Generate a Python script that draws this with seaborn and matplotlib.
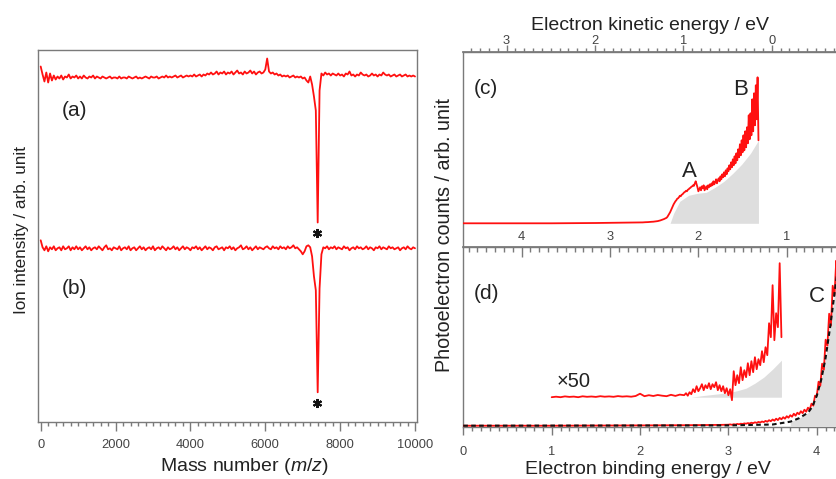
import numpy as np
import pandas as pd
import matplotlib
matplotlib.use("Agg")
import matplotlib.pyplot as plt
from matplotlib.ticker import MultipleLocator, NullLocator, FixedLocator
import seaborn as sns

# ------------------------------------------------------------------ data
# (a), (b): mass spectra (depletion), sampled every 50 m/z, relative to baseline
mass = np.linspace(0, 10000, 201)
trace_a = [10, 2, -5, 4, -6, 3, -4, 1, -3, 0,
           -2, 1, -3, 0, -1, 2, -2, 0, -1, 1,
           -2, 0, -2, 1, -1, -2, 0, -1, 1, -2,
           0, -1, -2, 0, -1, -2, -1, 0, -2, -1,
           -1, -2, 0, -2, -1, -1, -2, 0, -1, -2,
           -1, 0, -2, -1, -2, -1, 0, -1, -2, 0,
           -1, -1, 0, -2, -1, 0, -1, 1, -1, 0,
           -1, 0, 1, -1, 0, 1, -1, 0, 1, 0,
           1, 0, 2, 0, 1, 2, 0, 2, 1, 3,
           2, 4, 2, 3, 5, 2, 4, 3, 5, 2,
           4, 3, 5, 2, 4, 6, 3, 4, 2, 5,
           3, 4, 6, 3, 5, 2, 4, 5, 3, 4,
           7, 18, 5, 3, 4, 2, 3, 1, 2, 0,
           1, 0, 1, -1, 0, 1, -1, 0, -1, 0,
           -2, -1, -4, -6, 0, -8, -20, -34, -146, -14,
           3, 1, 4, 2, 3, 1, 3, 2, 1, 3,
           1, 2, 0, 3, 2, 5, 1, 2, 0, 2,
           1, 4, 2, 1, 2, 0, 1, 3, 1, 2,
           0, 2, 1, 4, 2, 1, 2, 0, 1, 2,
           0, 1, 2, 0, 1, 2, 0, 1, 0, 1,
           0]
trace_b = [8, 1, -2, 2, -3, 1, -1, 2, -2, 0,
           1, -2, 2, -1, 0, 2, -2, 1, -1, 2,
           -1, 1, -2, 0, 2, -1, 1, -2, 0, 1,
           -1, 2, 0, -2, 1, 3, -1, 0, -2, 1,
           0, -1, 2, -2, 0, 1, -1, 2, -2, 0,
           1, -2, 0, 2, -1, 1, -2, 0, 1, -1,
           2, -2, 0, 1, -1, 2, 0, -2, 1, -1,
           0, 2, -1, 1, -2, 0, 2, -1, 1, 0,
           -2, 1, 0, 2, -1, 1, -2, 0, 2, -1,
           1, 0, -2, 1, 2, -1, 0, 1, -2, 1,
           0, 2, -1, 1, -2, 0, 1, 3, -1, 0,
           2, -1, 1, -2, 0, 2, -1, 1, 0, -1,
           1, 2, 0, -1, 2, 0, 1, -1, 2, 0,
           1, -1, 2, 0, 1, 3, 0, 1, -1, -3,
           -6, -3, 2, 3, 1, -8, -28, -42, -144, -40,
           -6, 1, 0, 2, -1, 1, 0, 2, -1, 1,
           0, -1, 2, 0, 1, -2, 0, 1, -1, 2,
           0, 1, -1, 0, 2, -1, 1, 0, -2, 1,
           0, 2, -1, 1, 0, -1, 2, 0, 1, -1,
           0, 1, -2, 0, 1, -1, 2, 0, -1, 1,
           0]
star_mass = 7390
mass_ticks = [0, 2000, 4000, 6000, 8000, 10000]

# (c): photoelectron spectrum, 355 nm
hv_c = 3.49
ke_ticks_c = [0, 1, 2, 3]
be_c_flat = [0.0, 0.5, 1.0, 1.5, 1.8, 1.95]
spec_c_flat = [0, 0, 0, 0.3, 0.6, 0.8]
be_c_rise = np.linspace(2.00, 3.34, 135)
spec_c_rise = [0.8, 0.8, 0.9, 0.9, 1.0, 1.0, 1.1, 1.1, 1.2, 1.2,
               1.3, 1.3, 1.4, 1.5, 1.5, 1.6, 1.7, 1.8, 1.9, 2.0,
               2.2, 2.4, 2.6, 2.9, 3.2, 3.5, 3.8, 4.2, 4.6, 5.0,
               5.5, 6.5, 8, 9.5, 11, 13, 15, 17, 19, 20.5,
               22, 23, 24.5, 25, 26, 27.5, 27, 28.5, 29, 30,
               31, 31.5, 32.5, 32, 33.5, 34, 35, 35.5, 36.5, 37,
               38, 37.5, 40, 42, 39, 36, 32, 34, 36, 33,
               37, 35, 38, 33, 35, 37, 34, 38, 36, 39,
               37, 40, 38, 42, 39, 41, 44, 40, 43, 45,
               42, 47, 44, 49, 46, 51, 47, 53, 49, 55,
               52, 58, 54, 61, 56, 64, 58, 67, 60, 70,
               63, 74, 66, 79, 68, 83, 71, 88, 73, 92,
               76, 96, 80, 108, 84, 110, 88, 124, 92, 130,
               98, 138, 104, 146, 83]
be_c_fill = [2.34, 2.38, 2.45, 2.55, 2.65, 2.75, 2.85, 2.95, 3.05, 3.15, 3.25, 3.34]
fill_c = [0, 10, 22, 28, 30, 31, 36, 42, 50, 59, 70, 83]

# (d): photoelectron spectrum, 266 nm
hv_d = 4.66
ke_ticks_d = [1, 2, 3, 4]
be_d_flat = [0.0, 1.0, 2.0, 2.5, 2.9]
spec_d_flat = [0, 0, 0.3, 0.5, 0.8]
be_d_rise = np.linspace(3.00, 4.30, 66)
spec_d_rise = [1.0, 1.3, 0.9, 1.5, 1.2, 1.8, 1.4, 2.0, 1.7, 2.3,
               2.0, 2.6, 2.2, 3.0, 2.5, 3.4, 2.8, 3.8, 3.2, 4.2,
               3.6, 4.8, 4.0, 5.5, 4.5, 6.2, 5.0, 7.0, 5.6, 7.8,
               6.4, 8.5, 7.0, 9.5, 8.0, 10.5, 9.0, 12.0, 10.0, 13.0,
               11.5, 14.5, 12.5, 16.0, 14.0, 18.0, 16.0, 22.0, 20.0, 30.0,
               30, 44, 40, 62, 56, 86, 80, 112, 100, 140,
               130, 165, 140, 178, 150, 170]
be_fit = [0.0, 3.0, 3.5, 3.7, 3.8, 3.9, 3.95, 4.0, 4.05, 4.1, 4.15, 4.2, 4.25, 4.3]
fit_d = [0, 0.3, 1.2, 4, 7.5, 13, 19, 30, 46, 68, 98, 132, 165, 195]
# x50 magnified spectrum
be_x50_low = np.linspace(1.00, 2.45, 30)
x50_low = [0, 0.5, 0, 0.8, 0.3, 0.6, 0, 0.9, 0.4, 0.7,
           0.3, 1.0, 0.5, 0.8, 0.4, 1.1, 0.6, 0.9, 0.5, 1.2,
           3.5, 1.0, 2.0, 1.2, 2.2, 1.5, 1.0, 2.4, 1.3, 2.6]
be_x50_high = np.linspace(2.50, 3.60, 56)
x50_high = [2, 4, 1.5, 5, 3, 8, 5, 11, 6, 9,
            13, 7, 12, 9, 14, 8, 13, 10, 15, 7,
            12, 6, 11, 4, 9, 2, 8, -3, 26, 12,
            22, 14, 30, 17, 27, 20, 34, 22, 36, 25,
            40, 28, 38, 32, 46, 35, 50, 42, 74, 60,
            112, 57, 84, 70, 134, 60]
be_x50_fill = [2.58, 2.7, 2.8, 2.9, 3.0, 3.1, 3.2, 3.3, 3.4, 3.5, 3.6]
fill_x50 = [0, 1.5, 2.5, 3.5, 4.5, 6.5, 9, 14, 20, 28, 37]

# ------------------------------------------------------------------ style
sns.set_theme(style="white")
plt.rcParams["font.family"] = ["Liberation Sans", "DejaVu Sans"]
plt.rcParams["mathtext.fontset"] = "custom"
plt.rcParams["mathtext.it"] = "Liberation Sans:italic"
plt.rcParams["mathtext.rm"] = "Liberation Sans"
EDGE = "#7a7a7a"
TXT = "#222222"
TICKTXT = "#444444"
RED = "#ff1010"
GRAY = "#dedede"

W, H = 837, 479
fig = plt.figure(figsize=(W / 100, H / 100), dpi=100)


def box(x0, y0, x1, y1):
    return [x0 / W, 1 - y1 / H, (x1 - x0) / W, (y1 - y0) / H]


def fx(px):
    return px / W


def fy(py):
    return 1 - py / H


ax_l = fig.add_axes(box(38.3, 50.0, 416.7, 422.3))
ax_c = fig.add_axes(box(463.3, 52.3, 843.3, 246.7))
ax_d = fig.add_axes(box(463.3, 246.7, 843.3, 426.7))

for ax in (ax_l, ax_c, ax_d):
    for s in ax.spines.values():
        s.set_color(EDGE)
        s.set_linewidth(1.0)
    ax.yaxis.set_major_locator(NullLocator())
    ax.tick_params(left=False, labelleft=False)

# ------------------------------------------------------------------ left panel
off_a, off_b = 345.8, 174.0
df_a = pd.DataFrame({"m": mass, "y": np.asarray(trace_a) + off_a})
df_b = pd.DataFrame({"m": mass, "y": np.asarray(trace_b) + off_b})
sns.lineplot(data=df_a, x="m", y="y", ax=ax_l, color=RED, linewidth=1.3,
             estimator=None, sort=False, legend=False)
sns.lineplot(data=df_b, x="m", y="y", ax=ax_l, color=RED, linewidth=1.3,
             estimator=None, sort=False, legend=False)
ax_l.plot([star_mass, star_mass], [off_a - 156.2, off_b - 155.0], ls="none",
          marker=(6, 2, 0), ms=6.5, mew=1.5, color="#111111")
ax_l.set_xlim(-64, 10045)
ax_l.set_ylim(0, 372.3)
ax_l.set_xticks(mass_ticks)
ax_l.set_xticklabels([str(t) for t in mass_ticks])
ax_l.xaxis.set_minor_locator(MultipleLocator(200))
ax_l.tick_params(axis="x", which="both", bottom=True, direction="out",
                 color=EDGE, labelcolor=TICKTXT, labelsize=9.3, width=1.0)
ax_l.tick_params(axis="x", which="major", length=6.5, pad=5.5)
ax_l.tick_params(axis="x", which="minor", length=3)
ax_l.set_xlabel("")
ax_l.set_ylabel("")

# ------------------------------------------------------------------ panel (c)
be_c = np.concatenate([be_c_flat, be_c_rise])
spec_c = np.concatenate([spec_c_flat, spec_c_rise])
ax_c.fill_between(be_c_fill, 0, fill_c, color=GRAY, lw=0, zorder=1)
sns.lineplot(x=be_c, y=spec_c, ax=ax_c, color=RED, linewidth=1.3,
             estimator=None, sort=False, legend=False, zorder=3)
ax_c.set_xlim(0, 4.30)
ax_c.set_ylim(-23.4, 171.0)
ax_c.tick_params(axis="x", which="both", bottom=False, top=False,
                 labelbottom=False)
ax_c.set_xlabel("")
ax_c.set_ylabel("")
sec_c = ax_c.secondary_xaxis("top", functions=(lambda x: hv_c - x,
                                               lambda x: hv_c - x))
sec_c.xaxis.set_major_locator(FixedLocator(ke_ticks_c))
sec_c.xaxis.set_minor_locator(MultipleLocator(0.1))
sec_c.tick_params(axis="x", which="both", direction="out", color=EDGE,
                  labelcolor=TICKTXT, labelsize=9.3, width=1.0)
sec_c.tick_params(axis="x", which="major", length=5, pad=-1.5)
sec_c.tick_params(axis="x", which="minor", length=3)
for s in sec_c.spines.values():
    s.set_color(EDGE)
ax_c.text(2.564, 46.6, "A", fontsize=16, color=TXT, ha="center", va="baseline")
ax_c.text(3.139, 128.3, "B", fontsize=16, color=TXT, ha="center", va="baseline")

# ------------------------------------------------------------------ panel (d)
be_d = np.concatenate([be_d_flat, be_d_rise])
spec_d = np.concatenate([spec_d_flat, spec_d_rise])
off_x50 = 28.5
be_x50 = np.concatenate([be_x50_low, be_x50_high])
spec_x50 = np.concatenate([x50_low, x50_high]) + off_x50
fit_fill_mask = np.asarray(be_fit) >= 3.7
ax_d.fill_between(np.asarray(be_fit)[fit_fill_mask], 0,
                  np.asarray(fit_d)[fit_fill_mask], color=GRAY, lw=0, zorder=1)
ax_d.fill_between(be_x50_fill, off_x50, np.asarray(fill_x50) + off_x50,
                  color=GRAY, lw=0, zorder=1)
sns.lineplot(x=be_d, y=spec_d, ax=ax_d, color=RED, linewidth=1.3,
             estimator=None, sort=False, legend=False, zorder=3)
sns.lineplot(x=be_x50, y=spec_x50, ax=ax_d, color=RED, linewidth=1.3,
             estimator=None, sort=False, legend=False, zorder=3)
sns.lineplot(x=be_fit, y=fit_d, ax=ax_d, color="#111111", linewidth=1.5,
             linestyle=(0, (2.2, 1.6)), estimator=None, sort=False,
             legend=False, zorder=4)
ax_d.set_xlim(0, 4.30)
ax_d.set_ylim(-1.0, 179.0)
ax_d.xaxis.set_major_locator(MultipleLocator(1))
ax_d.xaxis.set_minor_locator(MultipleLocator(0.1))
ax_d.tick_params(axis="x", which="both", bottom=True, top=False,
                 direction="out", color=EDGE, labelcolor=TICKTXT,
                 labelsize=9.3, width=1.0)
ax_d.tick_params(axis="x", which="major", length=6, pad=8.0)
ax_d.tick_params(axis="x", which="minor", length=3)
ax_d.set_xlabel("")
ax_d.set_ylabel("")
sec_d = ax_d.secondary_xaxis("top", functions=(lambda x: hv_d - x,
                                               lambda x: hv_d - x))
sec_d.xaxis.set_major_locator(FixedLocator(ke_ticks_d))
sec_d.xaxis.set_minor_locator(MultipleLocator(0.1))
sec_d.tick_params(axis="x", which="both", direction="in", color=EDGE,
                  labelcolor=TICKTXT, labelsize=9.3, width=1.0)
sec_d.tick_params(axis="x", which="major", length=7, pad=2.5)
sec_d.tick_params(axis="x", which="minor", length=3.5)
for s in sec_d.spines.values():
    s.set_color(EDGE)
ax_d.text(3.998, 124.0, "C", fontsize=16, color=TXT, ha="center", va="baseline")
ax_d.text(1.057, 39.0, "\u00d750", fontsize=14.5, color=TXT, ha="left",
          va="baseline")

# ------------------------------------------------------------------ labels
fig.text(fx(61.5), fy(116.0), "(a)", fontsize=15, color=TXT, va="baseline")
fig.text(fx(61.5), fy(294.3), "(b)", fontsize=15, color=TXT, va="baseline")
fig.text(fx(474.0), fy(94.0), "(c)", fontsize=15, color=TXT, va="baseline")
fig.text(fx(474.0), fy(299.0), "(d)", fontsize=15, color=TXT, va="baseline")

fig.text(fx(244.3), fy(471.0), "Mass number ($m/z$)", fontsize=14, color=TXT,
         ha="center", va="baseline")
fig.text(fx(648.3), fy(474.5), "Electron binding energy / eV", fontsize=14,
         color=TXT, ha="center", va="baseline")
fig.text(fx(650.0), fy(30.0), "Electron kinetic energy / eV", fontsize=14,
         color=TXT, ha="center", va="baseline")
fig.text(fx(26.0), fy(230.0), "Ion intensity / arb. unit", fontsize=12.3,
         color=TXT, ha="center", va="baseline", rotation=90,
         rotation_mode="anchor")
fig.text(fx(450.0), fy(235.0), "Photoelectron counts / arb. unit", fontsize=14.2,
         color=TXT, ha="center", va="baseline", rotation=90,
         rotation_mode="anchor")

fig.savefig("out.png", dpi=100)
